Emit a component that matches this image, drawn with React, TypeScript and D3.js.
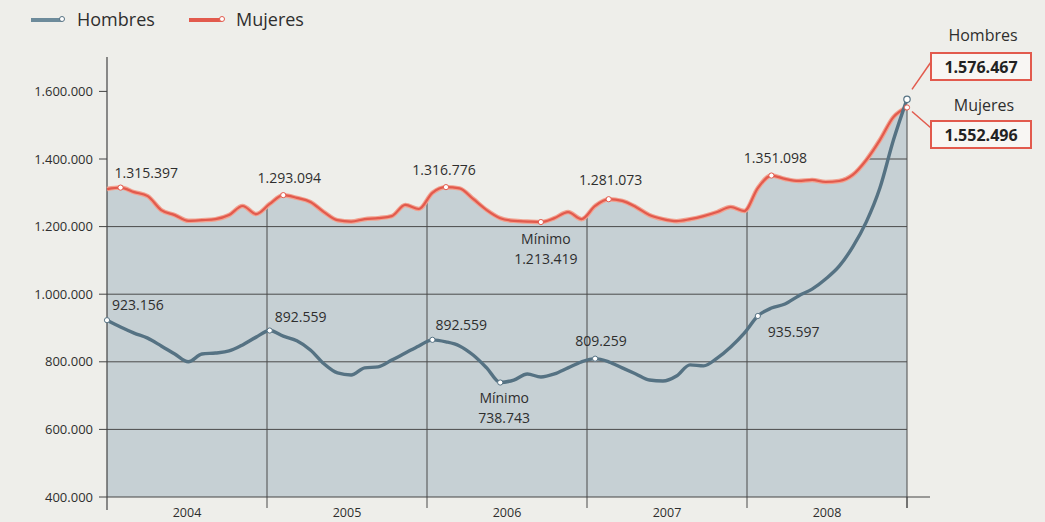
import React from "react";
import * as d3 from "d3";

// Monthly registered unemployment, Jan 2004 .. Dec 2008
const months: string[] = (() => {
  const out: string[] = [];
  for (let y = 2004; y <= 2008; y++) for (let m = 1; m <= 12; m++) out.push(`${y}-${String(m).padStart(2, "0")}`);
  return out;
})();

const mujeres: number[] = [
  1311000, 1315397, 1302000, 1290000, 1249000, 1234000, 1217000, 1219000, 1222000, 1234000, 1261000, 1237000,
  1267000, 1293094, 1285000, 1273000, 1243000, 1219000, 1215000, 1222000, 1225000, 1231000, 1264000, 1252000,
  1300000, 1316776, 1313000, 1282000, 1249000, 1225000, 1217000, 1215000, 1213419, 1225000, 1243000, 1222000,
  1261000, 1281073, 1276000, 1258000, 1234000, 1222000, 1216000, 1222000, 1231000, 1243000, 1258000, 1246000,
  1314000, 1351098, 1341000, 1335000, 1338000, 1332000, 1335000, 1353000, 1397000, 1456000, 1524000, 1552496,
];

const hombres: number[] = [
  923156, 903000, 885000, 870000, 847000, 823000, 800000, 823000, 826000, 832000, 850000, 873000,
  892559, 876000, 862000, 835000, 794000, 767000, 761000, 782000, 785000, 805000, 826000, 847000,
  865000, 859000, 847000, 820000, 782000, 738743, 746000, 764000, 755000, 764000, 782000, 800000,
  809259, 800000, 782000, 764000, 746000, 743000, 758000, 791000, 788000, 811000, 844000, 885000,
  935597, 959000, 971000, 995000, 1015000, 1045000, 1083000, 1140000, 1214000, 1314000, 1456000, 1576467,
];

const years: number[] = [2004, 2005, 2006, 2007, 2008];
const yTicks: number[] = [400000, 600000, 800000, 1000000, 1200000, 1400000, 1600000];
const yTickLabels: string[] = ["400.000", "600.000", "800.000", "1.000.000", "1.200.000", "1.400.000", "1.600.000"];

// Point annotations: month index, label lines
const mujeresNotes = [
  { i: 1, lines: ["1.315.397"] },
  { i: 13, lines: ["1.293.094"] },
  { i: 25, lines: ["1.316.776"] },
  { i: 32, lines: ["Mínimo", "1.213.419"] },
  { i: 37, lines: ["1.281.073"] },
  { i: 49, lines: ["1.351.098"] },
];
const hombresNotes = [
  { i: 0, lines: ["923.156"] },
  { i: 12, lines: ["892.559"] },
  { i: 24, lines: ["892.559"] },
  { i: 29, lines: ["Mínimo", "738.743"] },
  { i: 36, lines: ["809.259"] },
  { i: 48, lines: ["935.597"] },
];
const finalLabels = { hombres: "1.576.467", mujeres: "1.552.496" };

// layout (offsets of annotation labels relative to their point)
const mujeresOffsets: [number, number, string][] = [
  [-6, -10, "start"], [6, -12, "middle"], [-2, -12, "middle"], [5, 22, "middle"], [2, -14, "middle"], [4, -13, "middle"],
];
const hombresOffsets: [number, number, string][] = [
  [5, -10, "start"], [5, -9, "start"], [3, -10, "start"], [4, 20, "middle"], [-20, -13, "start"], [10, 21, "start"],
];

const W = 1045, H = 522;
const BG = "#eeeeea";
const FILL = "#c6d0d4";
const RED = "#e25a4d";
const BLUE = "#557283";
const TEXT = "#2e2e2e";
const FONT = "'Open Sans', 'Noto Sans', sans-serif";

export default function App() {
  const x = d3.scaleLinear().domain([0, months.length - 1]).range([107, 907]);
  const xYear = d3.scaleLinear().domain([2004, 2009]).range([107, 907]);
  const y = d3.scaleLinear().domain([400000, 1700000]).range([497, 57.6]);

  const line = d3.line<number>().x((_, i) => x(i)).y((d) => y(d)).curve(d3.curveMonotoneX);
  const area = d3.area<number>().x((_, i) => x(i)).y0(y(400000)).y1((d) => y(d)).curve(d3.curveMonotoneX);

  const areaPath = area(mujeres) || "";

  return (
    <svg width={W} height={H} style={{ position: "fixed", left: 0, top: 0, display: "block" }} fontFamily={FONT}>
      <rect x={0} y={0} width={W} height={H} fill={BG} />
      <defs>
        <clipPath id="fillClip">
          <path d={areaPath} />
        </clipPath>
      </defs>
      <path d={areaPath} fill={FILL} />
      {/* grid inside the fill */}
      <g clipPath="url(#fillClip)" stroke="#4a4a4a" strokeWidth={1}>
        {yTicks.slice(1).map((t) => (
          <line key={t} x1={107} x2={907} y1={y(t)} y2={y(t)} />
        ))}
        {years.slice(1).map((yr) => (
          <line key={yr} x1={xYear(yr)} x2={xYear(yr)} y1={40} y2={497} />
        ))}
      </g>
      {/* year separators below the axis */}
      <g stroke="#4a4a4a" strokeWidth={1}>
        {years.slice(1).concat([2009]).map((yr) => (
          <line key={yr} x1={xYear(yr)} x2={xYear(yr)} y1={y(400000)} y2={508} />
        ))}
        <line x1={xYear(2009)} x2={xYear(2009)} y1={y(mujeres[mujeres.length - 1])} y2={508} />
      </g>
      {/* axes */}
      <line x1={107} x2={930} y1={y(400000)} y2={y(400000)} stroke="#444" strokeWidth={1.2} />
      <line x1={107} x2={107} y1={57} y2={510} stroke="#444" strokeWidth={1.2} />
      {yTicks.map((t, k) => (
        <g key={t}>
          <line x1={99} x2={107} y1={y(t)} y2={y(t)} stroke="#444" strokeWidth={1} />
          <text x={93} y={y(t) + 4.5} textAnchor="end" fontSize={13} fill={TEXT}>
            {yTickLabels[k]}
          </text>
        </g>
      ))}
      {years.map((yr) => (
        <text key={yr} x={(xYear(yr) + xYear(yr + 1)) / 2} y={517} textAnchor="middle" fontSize={12.5} fill={TEXT}>
          {yr}
        </text>
      ))}
      {/* lines */}
      <path d={line(mujeres) || ""} fill="none" stroke="#f2a18f" strokeWidth={4.5} strokeLinejoin="round" />
      <path d={line(mujeres) || ""} fill="none" stroke={RED} strokeWidth={2.2} strokeLinejoin="round" />
      <path d={line(hombres) || ""} fill="none" stroke={BLUE} strokeWidth={3.4} strokeLinejoin="round" />
      {/* annotations */}
      {mujeresNotes.map((n, k) => {
        const [dx, dy, anchor] = mujeresOffsets[k];
        const px = x(n.i), py = y(mujeres[n.i]);
        return (
          <g key={"m" + k}>
            <circle cx={px} cy={py} r={2.6} fill="#fff" stroke={RED} strokeWidth={1} />
            {n.lines.map((s, j) => (
              <text key={j} x={px + dx} y={py + dy + j * 20} textAnchor={anchor as any} fontSize={14} fill={TEXT}>
                {s}
              </text>
            ))}
          </g>
        );
      })}
      {hombresNotes.map((n, k) => {
        const [dx, dy, anchor] = hombresOffsets[k];
        const px = x(n.i), py = y(hombres[n.i]);
        return (
          <g key={"h" + k}>
            <circle cx={px} cy={py} r={2.6} fill="#fff" stroke={BLUE} strokeWidth={1} />
            {n.lines.map((s, j) => (
              <text key={j} x={px + dx} y={py + dy + j * 20} textAnchor={anchor as any} fontSize={14} fill={TEXT}>
                {s}
              </text>
            ))}
          </g>
        );
      })}
      {/* final values */}
      <circle cx={x(59)} cy={y(hombres[59])} r={3.2} fill="#fff" stroke={BLUE} strokeWidth={1.2} />
      <circle cx={x(59)} cy={y(mujeres[59])} r={2.6} fill="#fff" stroke={RED} strokeWidth={1} />
      <line x1={x(59) + 5} y1={y(hombres[59]) - 10} x2={931} y2={62} stroke={RED} strokeWidth={1.5} />
      <line x1={x(59) + 5} y1={y(mujeres[59]) + 4} x2={931} y2={128} stroke={RED} strokeWidth={1.5} />
      <text x={983} y={41} textAnchor="middle" fontSize={16} fill={TEXT}>Hombres</text>
      <rect x={931} y={53} width={100} height={27} fill="#f8f6f3" stroke={RED} strokeWidth={2} />
      <text x={981} y={73} textAnchor="middle" fontSize={16} fontWeight="bold" fill="#222">{finalLabels.hombres}</text>
      <text x={984} y={111} textAnchor="middle" fontSize={16} fill={TEXT}>Mujeres</text>
      <rect x={931} y={121} width={100} height={27} fill="#f8f6f3" stroke={RED} strokeWidth={2} />
      <text x={981} y={141} textAnchor="middle" fontSize={16} fontWeight="bold" fill="#222">{finalLabels.mujeres}</text>
      {/* legend */}
      <line x1={31} x2={62} y1={20} y2={20} stroke="#6d8b9b" strokeWidth={4} />
      <circle cx={62} cy={19} r={2.5} fill="#fff" stroke={BLUE} strokeWidth={1} />
      <text x={77} y={26} fontSize={18} fill={TEXT}>Hombres</text>
      <line x1={189} x2={222} y1={20} y2={20} stroke={RED} strokeWidth={4} />
      <circle cx={222} cy={19} r={2.5} fill="#fff" stroke={RED} strokeWidth={1} />
      <text x={236} y={26} fontSize={18} fill={TEXT}>Mujeres</text>
    </svg>
  );
}
